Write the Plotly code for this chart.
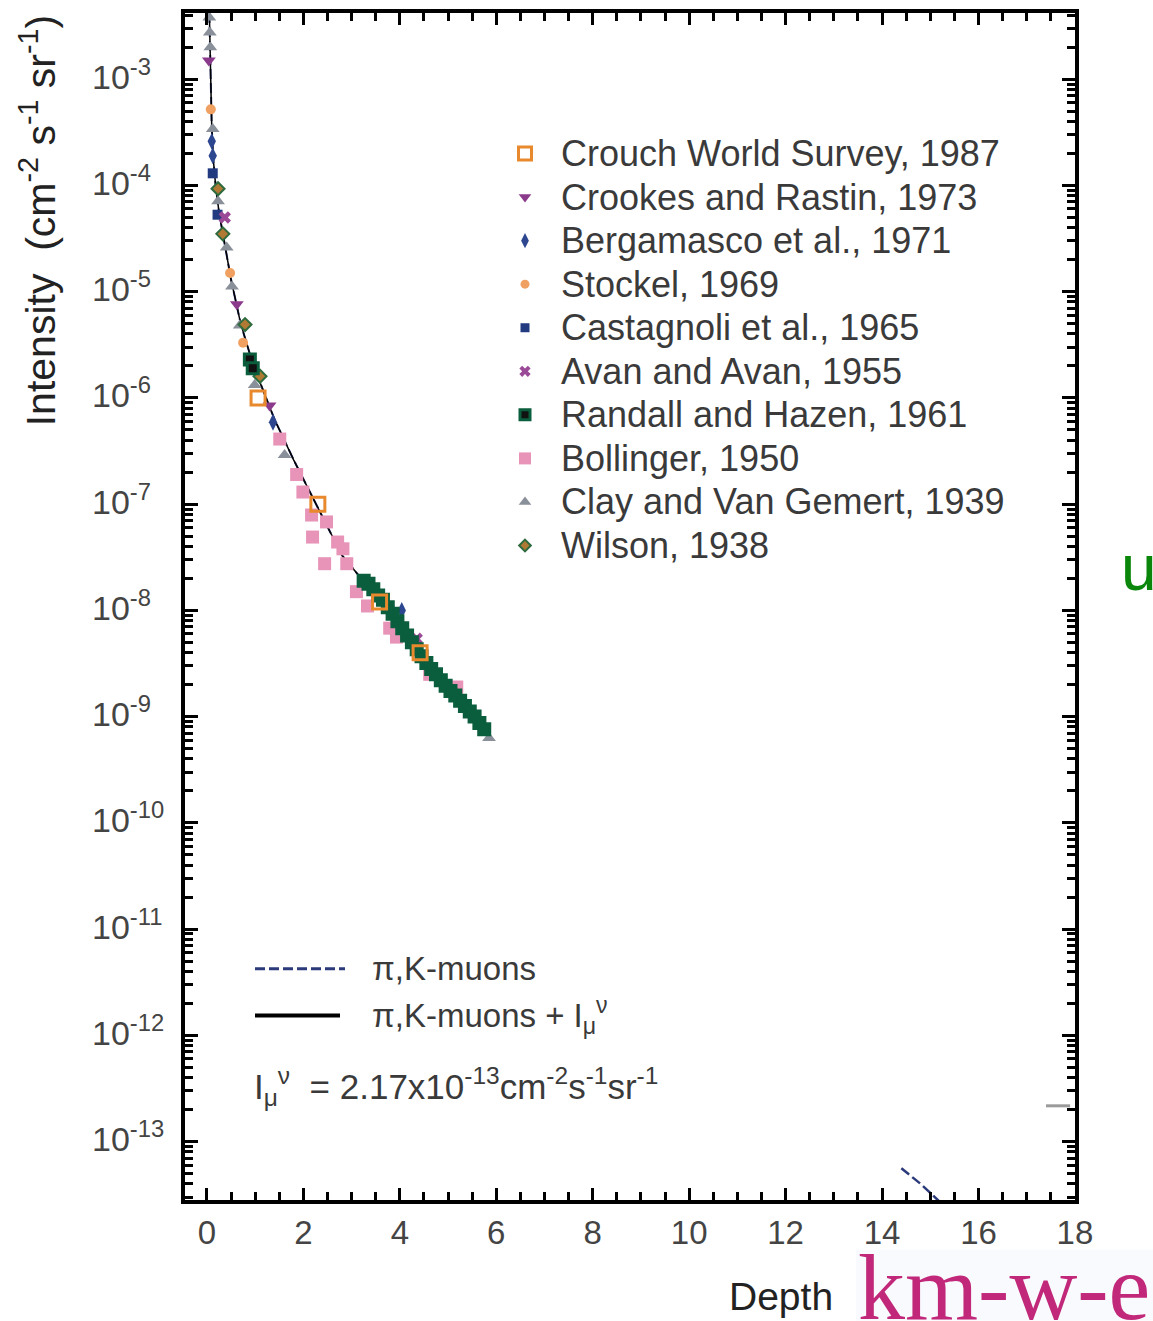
import plotly.graph_objects as go

# ---------------- data (depth in km.w.e., intensity in cm^-2 s^-1 sr^-1) ----------------
crouch_x = [1.06, 2.30, 3.58, 4.42]
crouch_y = [1.0e-6, 1.0e-7, 1.2e-8, 4.0e-9]

crookes_x = [0.04, 0.62, 1.30]
crookes_y = [1.5e-3, 7.6e-6, 8.5e-7]

bergamasco_x = [0.10, 0.12, 1.37, 4.04]
bergamasco_y = [2.6e-4, 1.9e-4, 5.9e-7, 1.0e-8]

stockel_x = [0.08, 0.48, 0.75]
stockel_y = [5.2e-4, 1.5e-5, 3.3e-6]

castagnoli_x = [0.12, 0.22]
castagnoli_y = [1.3e-4, 5.3e-5]

avan_x = [0.37, 4.35]
avan_y = [5.0e-5, 5.4e-9]

randall_x = [0.89, 0.95, 3.25, 3.35, 3.45, 3.55, 3.65, 3.75, 3.85, 3.95, 4.05, 4.15,
             4.25, 4.35, 4.45, 4.55, 4.65, 4.75, 4.85, 4.95, 5.05, 5.15, 5.25, 5.35,
             5.45, 5.55, 5.65, 5.75]
randall_y = [2.3e-6, 1.9e-6, 1.9e-8, 1.78e-8, 1.58e-8, 1.38e-8, 1.26e-8, 1.07e-8, 9.3e-9,
             7.9e-9, 6.8e-9, 5.8e-9, 5.0e-9, 4.3e-9, 3.7e-9, 3.2e-9, 2.8e-9, 2.5e-9,
             2.2e-9, 1.95e-9, 1.74e-9, 1.58e-9, 1.41e-9, 1.26e-9, 1.12e-9, 1.0e-9,
             8.7e-10, 7.6e-10]

bollinger_x = [1.51, 1.86, 1.99, 2.17, 2.48, 2.19, 2.71, 2.82, 2.44, 2.90, 3.10, 3.33,
               3.79, 3.93, 4.62, 5.18]
bollinger_y = [4.1e-7, 1.9e-7, 1.3e-7, 7.9e-8, 6.8e-8, 4.9e-8, 4.4e-8, 3.8e-8, 2.75e-8,
               2.75e-8, 1.5e-8, 1.1e-8, 6.8e-9, 5.6e-9, 2.5e-9, 1.9e-9]

clay_x = [0.05, 0.06, 0.07, 0.12, 0.23, 0.41, 0.52, 0.68, 0.99, 1.61, 5.85]
clay_y = [3.8e-3, 2.75e-3, 2.0e-3, 3.4e-4, 7.1e-5, 2.6e-5, 1.12e-5, 4.8e-6, 1.32e-6,
          2.9e-7, 6.3e-10]

wilson_x = [0.23, 0.33, 0.79, 1.10]
wilson_y = [9.3e-5, 3.5e-5, 4.9e-6, 1.6e-6]

# model curves
model_x = [0.05, 0.08, 0.10, 0.13, 0.18, 0.25, 0.35, 0.50, 0.70, 0.90, 1.10, 1.40, 1.80,
           2.10, 2.40, 2.80, 3.20, 3.70, 4.20, 4.70, 5.20, 5.80]
model_y = [4.2e-3, 7.9e-4, 3.5e-4, 1.8e-4, 1.0e-4, 5.6e-5, 3.2e-5, 1.3e-5, 5.0e-6, 2.5e-6,
           1.4e-6, 6.3e-7, 2.6e-7, 1.4e-7, 7.6e-8, 3.3e-8, 2.0e-8, 1.05e-8, 5.0e-9, 2.6e-9,
           1.5e-9, 7.1e-10]
pik_tail_x = [14.4, 14.8, 15.2]
pik_tail_y = [5.6e-14, 4.0e-14, 2.7e-14]
total_tail_x = [17.4, 17.9]
total_tail_y = [2.17e-13, 2.17e-13]

series_names = ["Crouch World Survey, 1987", "Crookes and Rastin, 1973",
                "Bergamasco et al., 1971", "Stockel, 1969", "Castagnoli et al., 1965",
                "Avan and Avan, 1955", "Randall and Hazen, 1961", "Bollinger, 1950",
                "Clay and Van Gemert, 1939", "Wilson, 1938"]
series_data = [(crouch_x, crouch_y), (crookes_x, crookes_y), (bergamasco_x, bergamasco_y),
               (stockel_x, stockel_y), (castagnoli_x, castagnoli_y), (avan_x, avan_y),
               (randall_x, randall_y), (bollinger_x, bollinger_y), (clay_x, clay_y),
               (wilson_x, wilson_y)]

x_ticks = [0, 2, 4, 6, 8, 10, 12, 14, 16, 18]
y_decades = [-3, -4, -5, -6, -7, -8, -9, -10, -11, -12, -13]

# ---------------- styles ----------------
GREEN = "#0B5E3D"
styles = [
    dict(symbol="square-open", size=14, color="#E8892E", line=dict(width=3, color="#E8892E")),
    dict(symbol="triangle-down", size=12, color="#8B3A8B", line=dict(width=0)),
    dict(symbol="diamond-tall", size=12, color="#2D4690", line=dict(width=0)),
    dict(symbol="circle", size=10, color="#F0A060", line=dict(width=0)),
    dict(symbol="square", size=10, color="#223A80", line=dict(width=0)),
    dict(symbol="x", size=11, color="#9A4A96", line=dict(width=0)),
    dict(symbol="square", size=11, color="#111111", line=dict(width=3, color=GREEN)),
    dict(symbol="square", size=13, color="#E894B8", line=dict(width=0)),
    dict(symbol="triangle-up", size=12, color="#8A9099", line=dict(width=0)),
    dict(symbol="diamond", size=10, color="#B07A35", line=dict(width=2, color="#2E6B3E")),
]
draw_order = [7, 8, 9, 1, 2, 4, 5, 3, 6, 0]

W, H = 1153, 1321
L, R, T, B = 185, 1075, 9, 1200


def pxx(px):
    return (px - L) / (R - L)


def pyy(py):
    return (B - py) / (B - T)


fig = go.Figure()

# model curves
fig.add_trace(go.Scatter(x=model_x, y=model_y, mode="lines",
                         line=dict(color="#2B3A7A", width=2, dash="10px,4px"),
                         showlegend=False, hoverinfo="skip"))
fig.add_trace(go.Scatter(x=model_x, y=model_y, mode="lines",
                         line=dict(color="black", width=1.5),
                         showlegend=False, hoverinfo="skip"))
fig.add_trace(go.Scatter(x=pik_tail_x, y=pik_tail_y, mode="lines",
                         line=dict(color="#2B3A7A", width=2.5, dash="10px,4px"),
                         showlegend=False, hoverinfo="skip"))
fig.add_trace(go.Scatter(x=total_tail_x, y=total_tail_y, mode="lines",
                         line=dict(color="#9a9a9a", width=3),
                         showlegend=False, hoverinfo="skip"))

for i in draw_order:
    xs, ys = series_data[i]
    st = styles[i]
    color = st["color"]
    if i == 6:  # Randall & Hazen: dense points merge into a green band
        color = [st["color"] if k < 2 else GREEN for k in range(len(xs))]
    fig.add_trace(go.Scatter(x=xs, y=ys, mode="markers", name=series_names[i],
                             marker=dict(symbol=st["symbol"], size=st["size"],
                                         color=color, line=st["line"]),
                             showlegend=False, cliponaxis=False))

# manual legend (keys on a pixel-space overlay axis)
leg_key_x = 525
leg_text_x = 559
leg_y0 = 150
leg_dy = 43.7
annotations = []
for i, name in enumerate(series_names):
    st = styles[i]
    yk = leg_y0 + i * leg_dy
    fig.add_trace(go.Scatter(x=[leg_key_x], y=[yk], xaxis="x2", yaxis="y2", mode="markers",
                             marker=dict(symbol=st["symbol"], size=st["size"] - 1,
                                         color=st["color"], line=st["line"]),
                             showlegend=False, hoverinfo="skip"))
    annotations.append(dict(x=pxx(leg_text_x), y=pyy(yk), xref="paper", yref="paper",
                            text=name, showarrow=False, xanchor="left", yanchor="middle",
                            font=dict(family="Liberation Sans", size=36, color="#3a3a3a")))

# y tick labels (left-aligned, as in the original)
for d in y_decades:
    annotations.append(dict(x=pxx(90), y=d, xref="paper", yref="y",
                            text="10<sup>-%d</sup>" % (-d), showarrow=False,
                            xanchor="left", yanchor="middle", yshift=5,
                            font=dict(family="Liberation Sans", size=34, color="#444")))

# bottom legend for the curves
shapes = [
    dict(type="line", xref="paper", yref="paper", x0=pxx(255), x1=pxx(345), y0=pyy(968),
         y1=pyy(968), line=dict(color="#2B3A7A", width=3, dash="10px,4px")),
    dict(type="line", xref="paper", yref="paper", x0=pxx(255), x1=pxx(340), y0=pyy(1015),
         y1=pyy(1015), line=dict(color="black", width=4)),
    # pale background behind the "km-w-e" label
    dict(type="rect", xref="paper", yref="paper", x0=pxx(856), x1=pxx(1153),
         y0=pyy(1250), y1=pyy(1321), line=dict(width=0), fillcolor="#F8FAFD", layer="above"),
]
txt_font = dict(family="Liberation Sans", size=33, color="#3a3a3a")
annotations += [
    dict(x=pxx(370), y=pyy(968), xref="paper", yref="paper", text="π,K-muons",
         showarrow=False, xanchor="left", yanchor="middle", font=txt_font),
    dict(x=pxx(370), y=pyy(1015), xref="paper", yref="paper",
         text="π,K-muons + I<sub>μ</sub><sup>ν</sup>",
         showarrow=False, xanchor="left", yanchor="middle", font=txt_font),
    dict(x=pxx(252), y=pyy(1086), xref="paper", yref="paper",
         text="I<sub>μ</sub><sup>ν</sup>  = 2.17x10<sup>-13</sup>cm<sup>-2</sup>s<sup>-1</sup>sr<sup>-1</sup>",
         showarrow=False, xanchor="left", yanchor="middle",
         font=dict(family="Liberation Sans", size=35, color="#3a3a3a")),
    # axis titles
    dict(x=pxx(38), y=pyy(218), xref="paper", yref="paper",
         text="Intensity  (cm<sup>-2</sup> s<sup>-1</sup> sr<sup>-1</sup>)", textangle=-90,
         showarrow=False, xanchor="center", yanchor="middle",
         font=dict(family="Liberation Sans", size=41, color="#222")),
    dict(x=pxx(781), y=pyy(1297), xref="paper", yref="paper", text="Depth",
         showarrow=False, xanchor="center", yanchor="middle",
         font=dict(family="Liberation Sans", size=39, color="#222")),
    dict(x=pxx(856), y=pyy(1287), xref="paper", yref="paper", text="km-w-e",
         showarrow=False, xanchor="left", yanchor="middle",
         font=dict(family="Liberation Serif", size=94, color="#C2287A")),
    dict(x=pxx(1119), y=pyy(566), xref="paper", yref="paper", text="u",
         showarrow=False, xanchor="left", yanchor="middle",
         font=dict(family="Liberation Sans", size=64, color="#0A870A")),
]

fig.update_layout(
    width=W, height=H,
    margin=dict(l=L, r=W - R, t=T, b=H - B, pad=0),
    paper_bgcolor="white", plot_bgcolor="white",
    showlegend=False,
    shapes=shapes,
    annotations=annotations,
    xaxis=dict(range=[-0.455, 18.001], tickmode="array", tickvals=x_ticks,
               ticktext=[str(v) for v in x_ticks],
               ticks="inside", ticklen=12, tickwidth=3, tickcolor="black",
               showline=True, linewidth=4, linecolor="black", mirror="ticks",
               showgrid=False, zeroline=False,
               minor=dict(dtick=0.5, tick0=0, ticks="inside", ticklen=8, tickwidth=3,
                          tickcolor="black", showgrid=False),
               tickfont=dict(family="Liberation Sans", size=33, color="#444"),
               ticklabelstandoff=0),
    yaxis=dict(type="log", range=[-13.55, -2.377], dtick=1, showticklabels=False,
               ticks="inside", ticklen=13, tickwidth=3, tickcolor="black",
               showline=True, linewidth=4, linecolor="black", mirror="ticks",
               showgrid=False, zeroline=False,
               minor=dict(dtick="D1", ticks="inside", ticklen=8, tickwidth=3,
                          tickcolor="black", showgrid=False)),
    xaxis2=dict(overlaying="x", range=[L, R], visible=False, anchor="y2"),
    yaxis2=dict(overlaying="y", range=[B, T], visible=False, anchor="x2"),
)

fig.write_html("out.html", config={"displayModeBar": False},
               post_script="document.body.style.margin='0px';")
